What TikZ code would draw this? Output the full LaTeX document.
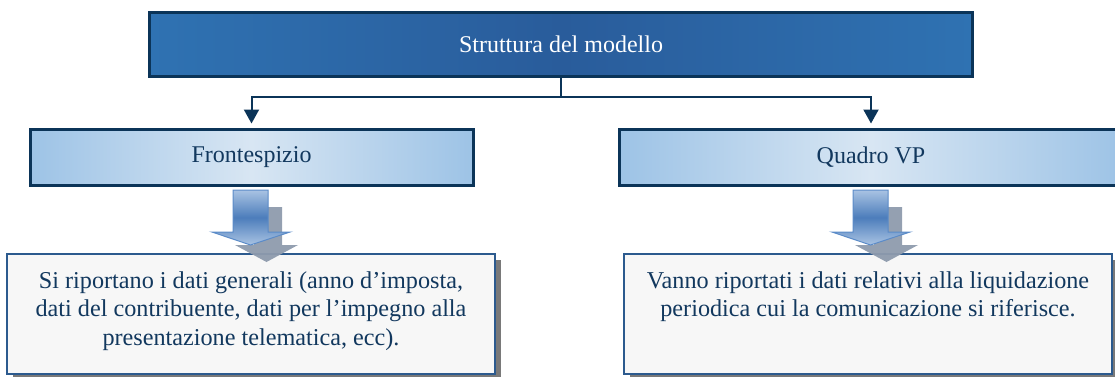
\documentclass[tikz,border=0pt]{standalone}
\usepackage{fontspec}
\setmainfont{Liberation Serif}
\usetikzlibrary{arrows.meta,shadows}
\definecolor{navy}{HTML}{0B3458}
\definecolor{txtnavy}{HTML}{12385E}
\definecolor{topouter}{HTML}{2F72B2}
\definecolor{topinner}{HTML}{295C9B}
\definecolor{midouter}{HTML}{9DC3E6}
\definecolor{midinner}{HTML}{D8E6F3}
\definecolor{boxborder}{HTML}{2C5A8E}
\definecolor{boxfill}{HTML}{F7F7F7}
\definecolor{arrowedge}{HTML}{5B8BC8}
\definecolor{arrowdark}{HTML}{4C7DBB}
\definecolor{arrowlight}{HTML}{A9C3E3}
\definecolor{arrowshadow}{HTML}{8E9BAD}
\begin{document}
\begin{tikzpicture}[x=1pt,y=-1pt,
  topbox/.style={draw=navy, line width=3pt, left color=topouter, right color=topouter, middle color=topinner,
    minimum height=64pt, inner sep=0pt, text=white, font=\fontsize{24}{28}\selectfont},
  midbox/.style={draw=navy, line width=3pt, left color=midouter, right color=midouter, middle color=midinner,
    minimum height=56pt, inner sep=0pt, text=txtnavy, font=\fontsize{24}{28}\selectfont},
  infobox/.style={draw=boxborder, line width=2pt, fill=boxfill, minimum width=488pt, minimum height=120pt,
    inner sep=0pt, general shadow={fill=gray!95!black, shadow xshift=6pt, shadow yshift=-6pt}},
  infotext/.style={text=txtnavy, align=center, font=\fontsize{24.2}{28.5}\selectfont, anchor=north, inner sep=0pt},
  conn/.style={draw=navy, line width=2pt},
  tip/.style={-{Triangle[width=15pt,length=14pt]}, shorten >=4pt},
  barrow/.style={draw=arrowedge, line width=1pt, top color=arrowlight, bottom color=arrowlight, middle color=arrowdark},
  bshadow/.style={fill=arrowshadow, fill opacity=0.95}
]
\useasboundingbox (0,0) rectangle (1115,376);

% boxes
\node[topbox, minimum width=823pt] (top) at (561,44) {Struttura del modello};
\node[midbox, minimum width=443pt] (front) at (251.5,157) {Frontespizio};
\node[midbox, minimum width=504pt] (quadro) at (871,157) {Quadro VP};

\node[infobox] (info1) at (251,314) {};
\node[infobox] (info2) at (868,314) {};
\node[infotext] (t1) at (251,271) {Si riportano i dati generali (anno d’imposta,\\dati del contribuente, dati per l’impegno alla\\presentazione telematica, ecc).};
\node[infotext] (t2) at (868,271) {Vanno riportati i dati relativi alla liquidazione\\periodica cui la comunicazione si riferisce.};

% connectors
\coordinate (split) at (561,97);
\draw[conn] (top.south) -- (split);
\draw[conn, tip] (split) -| (front.north);
\draw[conn, tip] (split) -| (quadro.north);

% block arrows
\foreach \dx in {0,620} {
  \begin{scope}[shift={(\dx,0)}]
    \fill[bshadow] (254,207) -- (282,207) -- (282,245) -- (298,245) -- (266.5,262) -- (235,245) -- (254,245) -- cycle;
    \draw[barrow] (233,190) -- (268,190) -- (268,232) -- (290,232) -- (250.5,245) -- (212,232) -- (233,232) -- cycle;
  \end{scope}
}
\end{tikzpicture}
\end{document}
